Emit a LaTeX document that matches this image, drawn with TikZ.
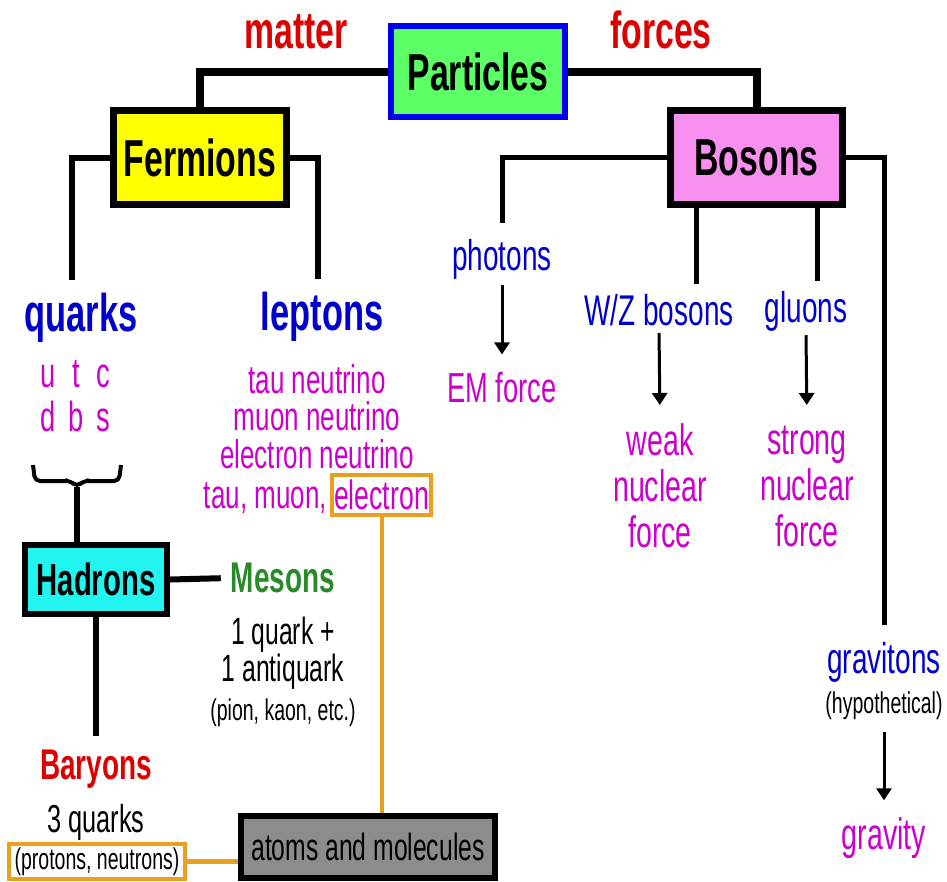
\documentclass[tikz,border=0pt]{standalone}
\usepackage{fontspec}
\usepackage{xcolor}
\usetikzlibrary{arrows.meta}
\newfontfamily\chartfont[FakeStretch=0.65]{Liberation Sans}
\definecolor{chartblue}{HTML}{0000CC}
\definecolor{chartmagenta}{HTML}{CC00CC}
\definecolor{chartred}{HTML}{DD0000}
\definecolor{chartgreen}{HTML}{2A8A2A}
\definecolor{chartorange}{HTML}{E8A020}
\definecolor{chartnavy}{HTML}{0000EE}
\definecolor{fillgreen}{HTML}{5CFF66}
\definecolor{fillyellow}{HTML}{FFFF00}
\definecolor{fillpink}{HTML}{F890F0}
\definecolor{fillcyan}{HTML}{22F4F0}
\definecolor{fillgray}{HTML}{8C8C8C}

\begin{document}
\begin{tikzpicture}[
  x=1pt, y=-1pt,
  every node/.style={inner sep=2pt},
  catbox/.style={draw=black, line width=6pt, inner sep=0pt,
    font=\chartfont\bfseries\fontsize{52}{56}\selectfont},
  bigword/.style={font=\chartfont\bfseries\fontsize{53}{56}\selectfont},
  word/.style={font=\chartfont\fontsize{43}{46}\selectfont},
  note/.style={font=\chartfont\fontsize{30}{32}\selectfont, text=black},
  branch/.style={draw=black, line width=6pt},
  flow/.style={draw=black, line width=3pt, -{Triangle[length=12pt,width=15pt]},
    shorten <=4pt, shorten >=17pt},
  amber/.style={draw=chartorange, line width=4pt}
]
\useasboundingbox (0,0) rectangle (947,881);

%% ==== top: particles, fermions, bosons ==============================
\node[catbox, draw=chartnavy, fill=fillgreen, minimum width=174pt,
  minimum height=91pt] (particles) at (478,71.5) {Particles};
\node[catbox, line width=7pt, fill=fillyellow, minimum width=173pt,
  minimum height=94pt] (fermions) at (200,157.5) {Fermions};
\node[catbox, line width=7pt, fill=fillpink, minimum width=172pt,
  minimum height=94pt] (bosons) at (756.5,157.5) {Bosons};

\node[bigword, text=chartred, font=\chartfont\bfseries\fontsize{52}{56}\selectfont]
  (matter) at (296,32) {matter};
\node[bigword, text=chartred, font=\chartfont\bfseries\fontsize{52}{56}\selectfont]
  (forces) at (661,30) {forces};

\draw[branch, line width=8pt] (particles.west) -| (fermions.north);
\draw[branch, line width=8pt] (particles.east) -| (bosons.north);

%% ==== matter side ===================================================
\node[bigword, text=chartblue] (quarks) at (81,318) {quarks};
\node[bigword, text=chartblue] (leptons) at (322,317) {leptons};

\draw[branch, shorten >=11pt] (fermions.west) -| ([xshift=-9pt]quarks.north);
\draw[branch, shorten >=11pt] (fermions.east) -| ([xshift=-4pt]leptons.north);

\node[text=chartmagenta, inner sep=0pt, font=\chartfont\fontsize{42}{44}\selectfont]
  (flavours) at (75.5,401)
  {\begin{tabular}{@{}c@{\hspace{13pt}}c@{\hspace{13pt}}c@{}}u&t&c\\d&b&s\end{tabular}};

\node[text=chartmagenta, align=center, anchor=north, inner sep=0pt,
  font=\chartfont\fontsize{40}{37.5}\selectfont] (neutrinos) at (317,364)
  {tau neutrino\\muon neutrino\\electron neutrino};
\node[text=chartmagenta, anchor=base east, inner sep=0pt,
  font=\chartfont\fontsize{40}{37.5}\selectfont] (charged) at (327,508) {tau, muon,};
\node[amber, text=chartmagenta, minimum width=99pt, minimum height=40pt, inner sep=0pt,
  font=\chartfont\fontsize{41}{38}\selectfont] (electron) at (381.5,495) {electron};

% brace under the quark flavours
\coordinate (bracetip) at (77,487);
\draw[branch, line width=4pt, rounded corners=5pt]
  (33,465) -- (35,481) -- (71,481) -- (bracetip) -- (83,481) -- (119,481) -- (121,465);

\node[catbox, fill=fillcyan, minimum width=142pt, minimum height=69pt,
  font=\chartfont\bfseries\fontsize{45}{48}\selectfont] (hadrons) at (96,579.5) {Hadrons};
\draw[branch] (bracetip) -- (bracetip |- hadrons.north);

\node[text=chartgreen, font=\chartfont\bfseries\fontsize{43}{46}\selectfont]
  (mesons) at (283,578) {Mesons};
\node[anchor=north, align=center, inner sep=0pt, text=black,
  font=\chartfont\fontsize{38}{37}\selectfont] (mesonmix) at (283,617)
  {1 quark +\\1 antiquark};
\node[note] (mesonlist) at (283,713) {(pion, kaon, etc.)};

\node[text=chartred, font=\chartfont\bfseries\fontsize{43}{46}\selectfont]
  (baryons) at (96,769) {Baryons};
\node[text=black, font=\chartfont\fontsize{39}{42}\selectfont] (threeq) at (96,822) {3 quarks};
\node[amber, note, minimum width=176pt, minimum height=35pt, inner sep=0pt]
  (protons) at (97,861.5) {(protons, neutrons)};

\draw[branch, shorten >=8pt] (hadrons.east) -- (mesons.west);
\draw[branch, shorten >=12pt] (hadrons.south) -- (baryons.north);

\node[catbox, fill=fillgray, minimum width=254pt, minimum height=62pt,
  font=\chartfont\fontsize{38}{40}\selectfont] (atoms) at (368,847) {atoms and molecules};

\draw[amber] (electron.south) -- (electron.south |- atoms.north);
\draw[amber, line width=5pt] (protons.east) -- (protons.east -| atoms.west);

%% ==== force side ====================================================
\node[word, text=chartblue] (photons) at (502,259) {photons};
\node[word, text=chartblue] (wz) at (659,310) {W/Z bosons};
\node[word, text=chartblue] (gluons) at (806,311) {gluons};
\node[word, text=chartblue] (gravitons) at (884,662) {gravitons};
\node[note] (hypothetical) at (884,706) {(hypothetical)};

\node[text=chartmagenta, font=\chartfont\fontsize{42}{44}\selectfont]
  (emforce) at (502,388) {EM force};
\node[text=chartmagenta, align=center, anchor=north, inner sep=0pt,
  font=\chartfont\fontsize{44}{46}\selectfont] (weak) at (660,423) {weak\\nuclear\\force};
\node[text=chartmagenta, align=center, anchor=north, inner sep=0pt,
  font=\chartfont\fontsize{44}{46}\selectfont] (strong) at (807,426) {strong\\nuclear\\force};
\node[text=chartmagenta, font=\chartfont\fontsize{44}{46}\selectfont]
  (gravity) at (884,838) {gravity};

\coordinate (wzdrop) at ([xshift=37pt]wz.north);
\coordinate (gluondrop) at ([xshift=11pt]gluons.north);

\draw[branch, line width=5pt, shorten >=14pt] (bosons.west) -| (photons.north);
\draw[branch, line width=5pt, shorten >=8pt] (wzdrop |- bosons.south) -- (wzdrop);
\draw[branch, line width=5pt, shorten >=8pt] (gluondrop |- bosons.south) -- (gluondrop);
\draw[branch, line width=5pt, shorten >=15pt] (bosons.east) -| (gravitons.north);

\draw[flow, shorten >=16pt] (photons.south) -- (emforce.north);
\draw[flow, shorten <=5pt, shorten >=18pt] (wz.south) -- (weak.north);
\draw[flow, shorten <=2pt, shorten >=21pt] (gluons.south) -- (strong.north);
\draw[flow, shorten <=10pt, shorten >=15pt] (hypothetical.south) -- (gravity.north);

\end{tikzpicture}
\end{document}
